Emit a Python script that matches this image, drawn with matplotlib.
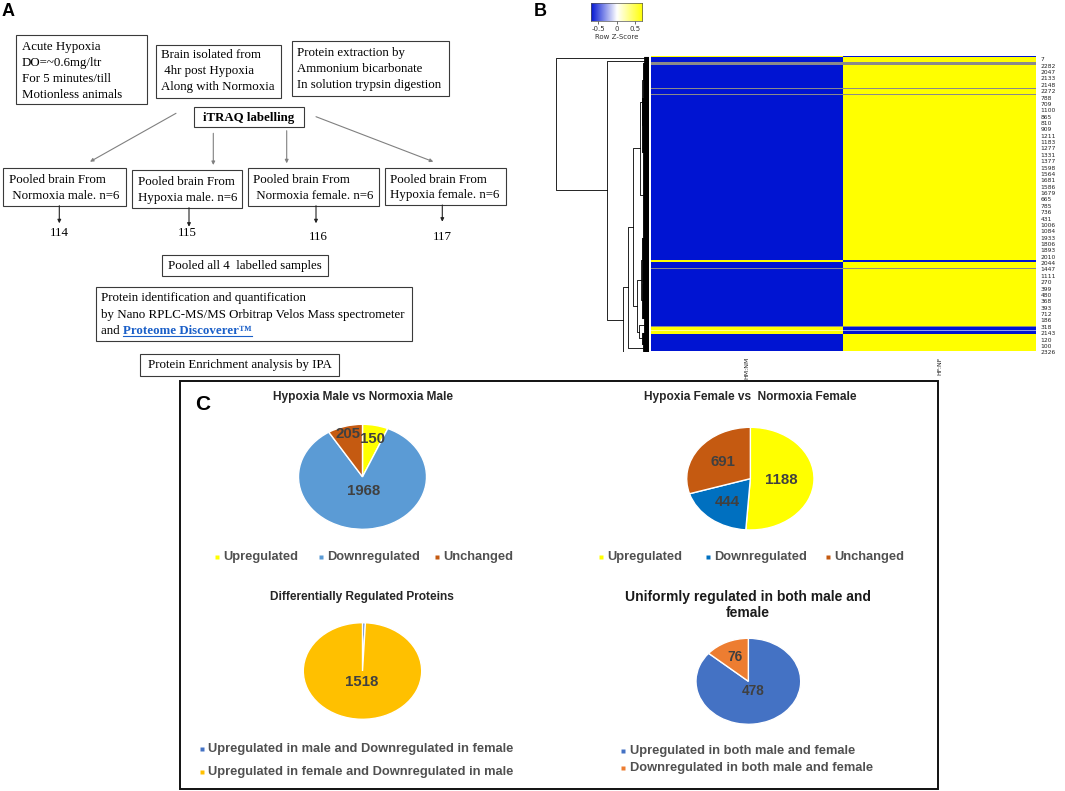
import matplotlib
matplotlib.use('Agg')
import matplotlib.pyplot as plt
import numpy as np
from matplotlib.colors import LinearSegmentedColormap
from matplotlib.patches import Rectangle

W, H = 1065, 791

# ---- panel C data
male_cats = ['Upregulated', 'Downregulated', 'Unchanged']
male_counts = [150, 1968, 205]
female_cats = ['Upregulated', 'Downregulated', 'Unchanged']
female_counts = [1188, 444, 691]
diff_cats = ['Upregulated in male and Downregulated in female',
             'Upregulated in female and Downregulated in male']
diff_counts = [12, 1518]
uni_cats = ['Upregulated in both male and female',
            'Downregulated in both male and female']
uni_counts = [478, 76]

# ---- panel B data: row bands (rows, HM:NM z, HF:NF z), nan = grey row
band_rows = [2, 5, 3, 23, 1, 5, 1, 165, 2, 6, 1, 57, 1, 3, 1, 3, 17]
band_hm = [0.707, -0.707, np.nan, -0.707, np.nan, -0.707, np.nan, -0.707, 0.707,
           -0.707, np.nan, -0.707, np.nan, 0.707, 0.3, 0.707, -0.707]
band_hf = [-0.707, 0.707, np.nan, 0.707, np.nan, 0.707, np.nan, 0.707, -0.707,
           0.707, np.nan, 0.707, np.nan, -0.707, -0.3, -0.707, 0.707]
col_names = ['HM:NM', 'HF:NF']
row_names = ['7', '2282', '2047', '2133', '2148', '2272', '788', '709', '1100', '865',
             '810', '909', '1211', '1183', '1277', '1331', '1377', '1598', '1564',
             '1681', '1586', '1679', '665', '785', '736', '431', '1006', '1084',
             '1933', '1806', '1893', '2010', '2044', '1447', '1111', '270', '399',
             '480', '368', '393', '712', '186', '318', '2143', '120', '100', '2326']
# row dendrogram: (merge height, left, right); [first row, last row, height] = leaf group
dendro = (1.00, [0, 2, 0.05],
          (0.45, [3, 5, 0.05],
           (0.28,
            (0.23,
             (0.17,
              (0.10, (0.08, [6, 40, 0.06], [41, 95, 0.07]), [96, 180, 0.06]),
              (0.13, (0.09, [181, 225, 0.07], [226, 261, 0.08]),
               (0.11, [262, 275, 0.05], [276, 287, 0.08]))),
             [288, 294, 0.06]),
            [295, 295, 0.0])))

SANS = 'Liberation Sans'
SERIF = 'Liberation Serif'
GREY = '#404040'

fig = plt.figure(figsize=(W / 100, H / 100), dpi=100)
ax0 = fig.add_axes([0, 0, 1, 1])
ax0.set_xlim(0, W)
ax0.set_ylim(H, 0)
ax0.axis('off')


def px_axes(x0, y0, x1, y1):
    return fig.add_axes([x0 / W, 1 - y1 / H, (x1 - x0) / W, (y1 - y0) / H])


def box(x0, y0, x1, y1, lw=0.8, ec='#3a3a3a'):
    ax0.add_patch(Rectangle((x0, y0), x1 - x0, y1 - y0, fill=False, ec=ec, lw=lw))


def arrow(p0, p1, color='#808080'):
    ax0.annotate('', xy=p1, xytext=p0,
                 arrowprops=dict(arrowstyle='-|>', color=color, lw=0.8,
                                 mutation_scale=5, shrinkA=0, shrinkB=0))


def stext(x, y, s, **kw):
    kw.setdefault('fontsize', 9.3)
    kw.setdefault('va', 'center')
    ax0.text(x, y, s, family=SERIF, **kw)


# ================= panel A : workflow
ax0.text(8, 12, 'A', fontsize=13, fontweight='bold', family=SANS, va='center', ha='center')

box(16, 35, 147, 104)
for y, s in zip([46.7, 62.7, 78.7, 94.7],
                ['Acute Hypoxia', 'DO=~0.6mg/ltr', 'For 5 minutes/till', 'Motionless animals']):
    stext(21.7, y, s)
box(155.7, 45, 281, 98.3)
for y, s in zip([55, 71, 86.7], ['Brain isolated from', ' 4hr post Hypoxia', 'Along with Normoxia']):
    stext(161, y, s)
box(291.7, 41.3, 449, 95.7)
for y, s in zip([53.3, 69.3, 85], ['Protein extraction by', 'Ammonium bicarbonate',
                                   'In solution trypsin digestion']):
    stext(297.3, y, s)

box(194.3, 106.7, 303.7, 127.3)
stext(249, 117.5, 'iTRAQ labelling', ha='center', fontweight='bold')
arrow((176, 113.3), (90, 161.7))
arrow((213.3, 133.3), (213.3, 165))
arrow((286.7, 130.7), (286.7, 163.3))
arrow((316, 116.7), (433.3, 161.7))

pool_boxes = [(3.3, 168.3, 126, 205.7), (132, 170, 242.3, 207.7),
              (247.7, 168.3, 379.3, 205.7), (384.7, 167.7, 505.7, 205)]
pool_text = [' Normoxia male. n=6', 'Hypoxia male. n=6', ' Normoxia female. n=6',
             'Hypoxia female. n=6']
tag_x = [59.3, 189, 316, 442.3]
tag_end = [223.3, 226.7, 223.3, 221.7]
tags = ['114', '115', '116', '117']
tag_y = [233.3, 232.7, 236.7, 236.7]
tag_cx = [59.3, 187.3, 318.3, 442.7]
for (x0, y0, x1, y1), s, tx, te, t, ty, tcx in zip(pool_boxes, pool_text, tag_x, tag_end,
                                                   tags, tag_y, tag_cx):
    box(x0, y0, x1, y1)
    stext(x0 + 5.5, y0 + 12, 'Pooled brain From')
    stext(x0 + 5.5, y0 + 27.5, s)
    arrow((tx, y1), (tx, te), color='#222222')
    stext(tcx, ty, t, ha='center')

box(162.3, 255, 328.3, 276)
stext(245.3, 265.5, 'Pooled all 4  labelled samples', ha='center')

box(96, 287.3, 412, 341)
stext(101, 298.3, 'Protein identification and quantification')
stext(101, 315, 'by Nano RPLC-MS/MS Orbitrap Velos Mass spectrometer')
stext(101, 330.7, 'and ')
pd_txt = ax0.text(123.3, 330.7, 'Proteome Discoverer\u2122', family=SERIF, fontsize=9.3,
                  fontweight='bold', color='#1a5fc8', va='center')

box(140, 354.3, 339, 375.7)
stext(239.5, 365, 'Protein Enrichment analysis by IPA', ha='center')

# ================= panel B : heatmap
ax0.text(540, 12, 'B', fontsize=13, fontweight='bold', family=SANS, va='center', ha='center')
cmap = LinearSegmentedColormap.from_list('bwy', ['#0014d2', '#ffffff', '#ffff00'])
cmap.set_bad('#8a8a8a')

mat = np.column_stack([np.repeat(band_hm, band_rows), np.repeat(band_hf, band_rows)])
n_rows = mat.shape[0]

axh = px_axes(651, 56, 1035.7, 352.3)
axh.imshow(mat, aspect='auto', cmap=cmap, vmin=-0.707, vmax=0.707,
           interpolation='nearest', extent=(0, 2, n_rows, 0))
axh.set_xticks([0.5, 1.5], col_names, rotation=90, fontsize=4.5, family='DejaVu Sans')
axh.yaxis.tick_right()
axh.set_yticks(np.linspace(3.3, n_rows + 1.3, len(row_names)), row_names,
               fontsize=4.3, family='DejaVu Sans')
axh.tick_params(length=0, pad=3.4, colors='#222222')
axh.tick_params(axis='x', pad=3.0)
for s in axh.spines.values():
    s.set_visible(False)

# dendrogram
axd = px_axes(554.5, 56, 649, 352.3)


def draw_node(node):
    if isinstance(node, list):
        r0, r1, h = node
        rows = np.arange(r0, r1 + 1) + 0.5
        if r1 > r0:
            axd.plot([h, h], [rows[0], rows[-1]], color='k', lw=0.6)
            axd.hlines(rows, 0, h, color='k', lw=0.8)
        return rows.mean(), h
    h, left, right = node
    yl, hl = draw_node(left)
    yr, hr = draw_node(right)
    axd.plot([hl, h, h, hr], [yl, yl, yr, yr], color='k', lw=0.6)
    return (yl + yr) / 2, h


draw_node(dendro)
axd.set_xlim(1.016, 0)
axd.set_ylim(n_rows, 0)
axd.axis('off')

# colour key
axc = px_axes(591, 3.3, 642.3, 20.7)
axc.imshow(np.linspace(-0.7, 0.7, 256)[None, :], aspect='auto', cmap=cmap,
           vmin=-0.707, vmax=0.707, extent=(-0.7, 0.7, 0, 1))
axc.set_yticks([])
axc.set_xticks([-0.5, 0, 0.5], ['-0.5', '0', '0.5'])
axc.tick_params(axis='x', length=2, width=0.5, pad=2, labelsize=5, colors='#333333')
axc.set_xlabel('Row Z-Score', fontsize=5, labelpad=1.5, color='#333333')
for s in axc.spines.values():
    s.set_linewidth(0.5)
    s.set_color('#555555')

# ================= panel C : pies
box(180, 381, 938, 789, lw=1.4, ec='#111111')
ax0.text(203, 404, 'C', fontsize=15, fontweight='bold', family=SANS, va='center', ha='center')


def pie(bbox, counts, colors, label_r, fs, show):
    ax = px_axes(*bbox)
    wedges, _ = ax.pie(counts, colors=colors, startangle=90, counterclock=False,
                       wedgeprops=dict(edgecolor='white', linewidth=1.0))
    ax.set_aspect('auto')
    ax.set_xlim(-1, 1)
    ax.set_ylim(-1, 1)
    for w, c, r, sh in zip(wedges, counts, label_r, show):
        if not sh:
            continue
        a = np.deg2rad((w.theta1 + w.theta2) / 2)
        ax.text(r * np.cos(a), r * np.sin(a), str(c), ha='center', va='center',
                fontsize=fs, fontweight='bold', color=GREY, family=SANS)
    return ax


def legend_row(y, xs_marker, cats, colors, fs=9.3):
    for xm, c, col in zip(xs_marker, cats, colors):
        ax0.plot(xm, y, 's', ms=3.2, color=col, mec='none')
        ax0.text(xm + 6.5, y, c, fontsize=fs, fontweight='bold', color='#505050',
                 family=SANS, va='center', ha='left')


male_cols = ['#ffff00', '#5b9bd5', '#c55a11']
ax0.text(363, 397, 'Hypoxia Male vs Normoxia Male', fontsize=8.6, fontweight='bold',
         color='#262626', family=SANS, ha='center', va='center')
pie((298.5, 424.3, 426.5, 529.3), male_counts, male_cols, [0.74, 0.27, 0.85], 10.8, [1, 1, 1])
legend_row(556.7, [216.7, 321, 436.7], male_cats, male_cols)

female_cols = ['#ffff00', '#0070c0', '#c55a11']
ax0.text(750, 397, 'Hypoxia Female vs  Normoxia Female', fontsize=8.6, fontweight='bold',
         color='#262626', family=SANS, ha='center', va='center')
pie((686.7, 427.3, 814, 530), female_counts, female_cols, [0.49, 0.57, 0.53], 10.8, [1, 1, 1])
legend_row(556.7, [600.7, 707.7, 828], female_cats, female_cols)

diff_cols = ['#4472c4', '#ffc000']
ax0.text(361.7, 596.7, 'Differentially Regulated Proteins', fontsize=8.6, fontweight='bold',
         color='#262626', family=SANS, ha='center', va='center')
pie((303.3, 622.7, 421.7, 719.3), diff_counts, diff_cols, [0.5, 0.23], 10.8, [0, 1])
for y, c, col in zip([749.3, 771.7], diff_cats, diff_cols):
    legend_row(y, [201.7], [c], [col])

uni_cols = ['#4472c4', '#ed7d31']
ax0.text(748, 605, 'Uniformly regulated in both male and\nfemale', fontsize=10,
         fontweight='bold', color='#1a1a1a', family=SANS, ha='center', va='center',
         linespacing=1.15)
pie((696, 638.3, 800.7, 724.3), uni_counts, uni_cols, [0.24, 0.62], 9.8, [1, 1])
for y, c, col in zip([751, 768.3], uni_cats, uni_cols):
    legend_row(y, [623.3], [c], [col])

# underline the software name
fig.canvas.draw()
bb = pd_txt.get_window_extent().transformed(ax0.transData.inverted())
ax0.plot([bb.x0, bb.x1], [bb.y0 - 0.5, bb.y0 - 0.5], color='#1a5fc8', lw=0.8)

fig.savefig('out.png', dpi=100)
